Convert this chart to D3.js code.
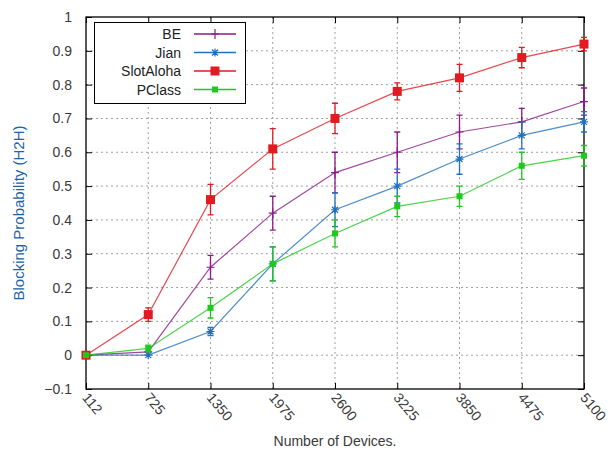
<!DOCTYPE html>
<html>
<head>
<meta charset="utf-8">
<script src="https://cdn.jsdelivr.net/npm/d3@7/dist/d3.min.js"></script>
<style>
  body { margin: 0; background: #fff; }
  svg { display: block; font-family: "Liberation Sans", Arial, sans-serif; }
</style>
</head>
<body>
<svg id="chart" width="611" height="450"></svg>
<script>
// Number of devices (x categories)
const devices = ["112", "725", "1350", "1975", "2600", "3225", "3850", "4475", "5100"];

// Blocking probability per scheme
const beValues        = [0, 0.01, 0.26, 0.42, 0.54, 0.60, 0.66, 0.69, 0.75];
const jianValues      = [0, 0, 0.07, 0.27, 0.43, 0.50, 0.58, 0.65, 0.69];
const slotAlohaValues = [0, 0.12, 0.46, 0.61, 0.70, 0.78, 0.82, 0.88, 0.92];
const pclassValues    = [0, 0.02, 0.14, 0.27, 0.36, 0.44, 0.47, 0.56, 0.59];

// Half-width of the error bars
const beErr        = [0, 0, 0.035, 0.05, 0.06, 0.06, 0.05, 0.04, 0.04];
const jianErr      = [0, 0, 0.012, 0.05, 0.05, 0.05, 0.045, 0.04, 0.03];
const slotAlohaErr = [0, 0.02, 0.045, 0.06, 0.045, 0.025, 0.04, 0.03, 0.02];
const pclassErr    = [0, 0.01, 0.03, 0.05, 0.04, 0.03, 0.03, 0.04, 0.03];

const yTicks = [-0.1, 0, 0.1, 0.2, 0.3, 0.4, 0.5, 0.6, 0.7, 0.8, 0.9, 1];

const series = [
  { name: "BE",        values: beValues,        err: beErr,        color: "#8a1a8a", marker: "plus" },
  { name: "Jian",      values: jianValues,      err: jianErr,      color: "#2070c0", marker: "star" },
  { name: "SlotAloha", values: slotAlohaValues, err: slotAlohaErr, color: "#e41a22", marker: "bigsquare" },
  { name: "PClass",    values: pclassValues,    err: pclassErr,    color: "#1ec81e", marker: "square" }
];

const svg = d3.select("#chart");
const plotL = 86, plotR = 584, plotT = 17, plotB = 389;

const x = d3.scalePoint().domain(devices).range([plotL, plotR]);
const y = d3.scaleLinear().domain([-0.1, 1]).range([plotB, plotT]);

// Dotted grid
const grid = svg.append("g").attr("stroke", "#a0a0a0").attr("stroke-dasharray", "2,3").attr("stroke-width", 1);
devices.slice(1, -1).forEach(d => {
  grid.append("line").attr("x1", x(d)).attr("x2", x(d)).attr("y1", plotT).attr("y2", plotB);
});
yTicks.slice(1, -1).forEach(v => {
  grid.append("line").attr("x1", plotL).attr("x2", plotR).attr("y1", y(v)).attr("y2", y(v));
});

// Axes with inward ticks, mirrored on the opposite sides
const tickLen = 6;
const axisFont = 14;
const yAxis = d3.axisLeft(y).tickValues(yTicks).tickSize(-tickLen).tickPadding(tickLen + 8).tickFormat(d3.format("~g"));
const gy = svg.append("g").attr("transform", `translate(${plotL},0)`).call(yAxis);
gy.select(".domain").remove();
gy.selectAll("text").attr("font-size", axisFont).attr("fill", "#3a3a3a").style("font-family", "Liberation Sans, Arial, sans-serif");

const gyr = svg.append("g").attr("transform", `translate(${plotR},0)`).call(d3.axisRight(y).tickValues(yTicks).tickSize(-tickLen).tickFormat(""));
gyr.select(".domain").remove();

const xAxis = d3.axisBottom(x).tickSize(-tickLen).tickPadding(0);
const gx = svg.append("g").attr("transform", `translate(0,${plotB})`).call(xAxis);
gx.select(".domain").remove();
gx.selectAll("text")
  .attr("font-size", axisFont).attr("fill", "#3a3a3a")
  .style("font-family", "Liberation Sans, Arial, sans-serif")
  .attr("text-anchor", "start")
  .attr("dy", null)
  .attr("y", 0)
  .attr("transform", "translate(-5,9) rotate(50)");

const gxt = svg.append("g").attr("transform", `translate(0,${plotT})`).call(d3.axisTop(x).tickSize(-tickLen).tickFormat(""));
gxt.select(".domain").remove();

svg.selectAll(".tick line").attr("stroke", "#000");

// Frame
svg.append("rect").attr("x", plotL).attr("y", plotT).attr("width", plotR - plotL).attr("height", plotB - plotT)
  .attr("fill", "none").attr("stroke", "#000").attr("stroke-width", 1.3);

// Axis titles
svg.append("text").attr("x", 335).attr("y", 446).attr("text-anchor", "middle")
  .attr("font-size", 14).attr("fill", "#3a3a3a").text("Number of Devices.");
svg.append("text").attr("transform", `translate(24,${(plotT + plotB) / 2 + 10}) rotate(-90)`)
  .attr("text-anchor", "middle").attr("font-size", 15).attr("fill", "#2262a6").text("Blocking Probability (H2H)");

function drawMarker(g, type, cx, cy, color) {
  if (type === "plus") {
    g.append("path").attr("d", `M${cx},${cy - 5}V${cy + 5}M${cx - 4},${cy}H${cx + 4}`)
      .attr("stroke", color).attr("stroke-width", 1.2).attr("fill", "none");
  } else if (type === "star") {
    g.append("path").attr("d", `M${cx - 4},${cy}H${cx + 4}M${cx - 3},${cy - 3}L${cx + 3},${cy + 3}M${cx - 3},${cy + 3}L${cx + 3},${cy - 3}M${cx},${cy - 4}V${cy + 4}`)
      .attr("stroke", color).attr("stroke-width", 1.2).attr("fill", "none");
  } else if (type === "bigsquare") {
    g.append("rect").attr("x", cx - 4.5).attr("y", cy - 4.5).attr("width", 9).attr("height", 9).attr("fill", color);
  } else {
    g.append("rect").attr("x", cx - 3).attr("y", cy - 3).attr("width", 6).attr("height", 6).attr("fill", color);
  }
}

const line = d3.line().x((d, i) => x(devices[i])).y(d => y(d));

series.forEach(s => {
  const g = svg.append("g");
  g.append("path").datum(s.values).attr("d", line)
    .attr("fill", "none").attr("stroke", s.color).attr("stroke-width", 1.2).attr("stroke-opacity", 0.8);
  // Error bars
  s.values.forEach((v, i) => {
    const e = s.err[i];
    if (e <= 0) return;
    const cx = x(devices[i]);
    const y0 = y(v - e), y1 = y(v + e);
    g.append("path").attr("d", `M${cx},${y0}V${y1}M${cx - 3},${y0}H${cx + 3}M${cx - 3},${y1}H${cx + 3}`)
      .attr("stroke", s.color).attr("stroke-width", 1.3).attr("fill", "none");
  });
  s.values.forEach((v, i) => drawMarker(g, s.marker, x(devices[i]), y(v), s.color));
});

// Legend
const lg = svg.append("g");
lg.append("rect").attr("x", 94.5).attr("y", 22.5).attr("width", 151).attr("height", 81)
  .attr("fill", "#fff").attr("stroke", "#000").attr("stroke-width", 1);
series.forEach((s, i) => {
  const ly = 34 + i * 18.5;
  lg.append("text").attr("x", 181).attr("y", ly + 5).attr("text-anchor", "end")
    .attr("font-size", 14).attr("fill", "#222").text(s.name);
  lg.append("line").attr("x1", 194).attr("x2", 236).attr("y1", ly).attr("y2", ly)
    .attr("stroke", s.color).attr("stroke-width", 1.3);
  drawMarker(lg, s.marker, 215, ly, s.color);
});
</script>
</body>
</html>
